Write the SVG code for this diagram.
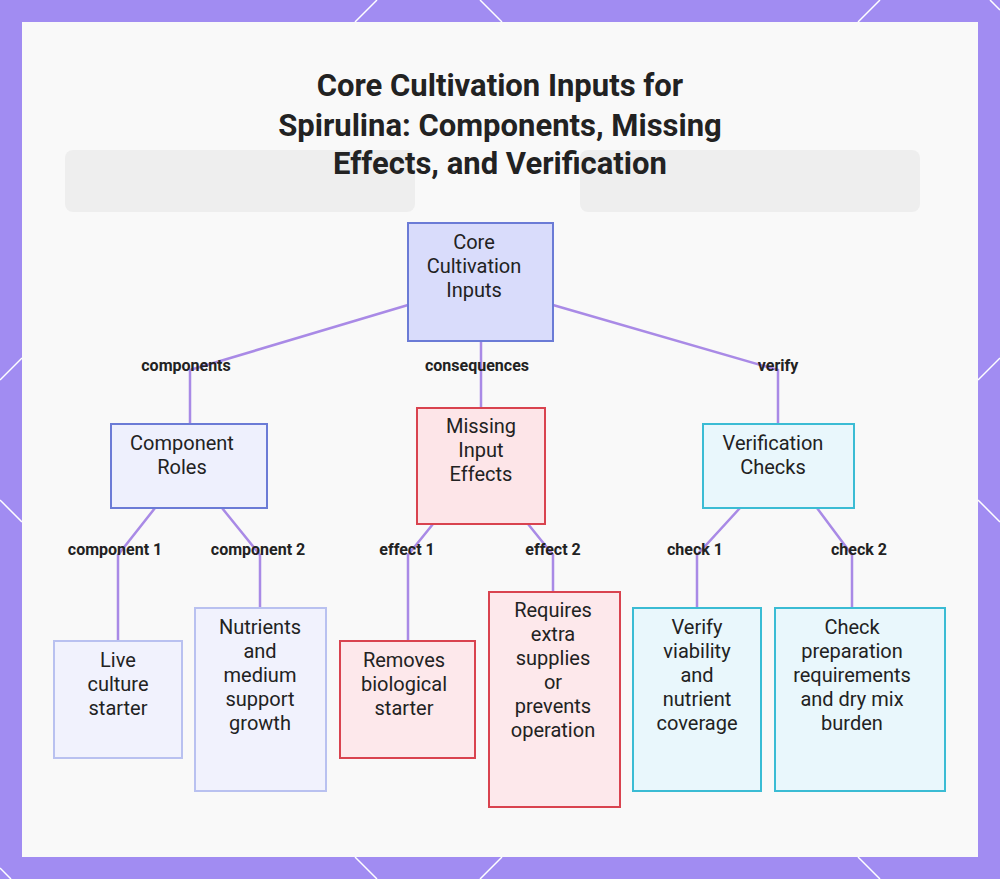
<svg xmlns="http://www.w3.org/2000/svg" width="1000" height="879" viewBox="0 0 1000 879">
<style>
.t{font-family:Roboto,"Liberation Sans",sans-serif;fill:#222}
.ti{font-size:31px;font-weight:bold;text-anchor:middle}
.n{font-size:20px;text-anchor:middle}
.l{font-size:16px;font-weight:bold;text-anchor:middle}
.e{fill:none;stroke:#a98ae6;stroke-width:2.5}
.fr{stroke:#fff;stroke-width:1.5}
</style>
<rect width="1000" height="879" fill="#a18cf2"/>
<g class="fr">
<line x1="0" y1="380" x2="22" y2="358"/><line x1="0" y1="500" x2="22" y2="522"/>
<line x1="978" y1="380" x2="1000" y2="358"/><line x1="978" y1="500" x2="1000" y2="522"/>
<line x1="355" y1="22" x2="377" y2="0"/><line x1="480" y1="0" x2="502" y2="22"/>
<line x1="858" y1="22" x2="880" y2="0"/><line x1="990" y1="0" x2="1000" y2="10"/>
<line x1="355" y1="857" x2="377" y2="879"/><line x1="480" y1="879" x2="502" y2="857"/>
<line x1="858" y1="857" x2="880" y2="879"/><line x1="0" y1="868" x2="11" y2="879"/>
</g>
<rect x="22" y="22" width="956" height="835" fill="#f9f9f9"/>
<rect x="65" y="150" width="350" height="62" rx="8" fill="#eeeeee"/>
<rect x="580" y="150" width="340" height="62" rx="8" fill="#eeeeee"/>
<text class="t ti"><tspan x="500" y="96">Core Cultivation Inputs for</tspan><tspan x="500" y="136">Spirulina: Components, Missing</tspan><tspan x="500" y="174">Effects, and Verification</tspan></text>
<g id="connectors">
<path class="e" d="M408,305 L190,370 V424"/>
<path class="e" d="M481,341 V408"/>
<path class="e" d="M553,305 L778,370 V424"/>
<path class="e" d="M155,508 L118,555 V641"/>
<path class="e" d="M222,508 L260,555 V608"/>
<path class="e" d="M433,524 L408,555 V641"/>
<path class="e" d="M528,524 L553,555 V592"/>
<path class="e" d="M740,508 L697,555 V608"/>
<path class="e" d="M817,508 L852,555 V608"/>
<g class="t l">
<text x="186" y="371">components</text>
<text x="477" y="371">consequences</text>
<text x="778" y="371">verify</text>
<text x="115" y="555">component 1</text>
<text x="258" y="555">component 2</text>
<text x="407" y="555">effect 1</text>
<text x="553" y="555">effect 2</text>
<text x="695" y="555">check 1</text>
<text x="859" y="555">check 2</text>
</g>
</g>
<g id="core"><rect x="408" y="223" width="145" height="118" fill="#d9dcfb" stroke="#6b7bd6" stroke-width="2"/><text class="t n"><tspan x="474" y="249">Core</tspan><tspan x="474" y="273">Cultivation</tspan><tspan x="474" y="297">Inputs</tspan></text></g>
<g id="roles"><rect x="111" y="424" width="156" height="84" fill="#eef0fd" stroke="#6b7bd6" stroke-width="2"/><text class="t n"><tspan x="182" y="450">Component</tspan><tspan x="182" y="474">Roles</tspan></text></g>
<g id="missing"><rect x="417" y="408" width="128" height="116" fill="#fde5e8" stroke="#d9434f" stroke-width="2"/><text class="t n"><tspan x="481" y="433">Missing</tspan><tspan x="481" y="457">Input</tspan><tspan x="481" y="481">Effects</tspan></text></g>
<g id="verif"><rect x="703" y="424" width="151" height="84" fill="#e9f7fc" stroke="#3bbcd4" stroke-width="2"/><text class="t n"><tspan x="773" y="450">Verification</tspan><tspan x="773" y="474">Checks</tspan></text></g>
<g id="live"><rect x="54" y="641" width="128" height="117" fill="#f1f2fd" stroke="#b9c1f0" stroke-width="2"/><text class="t n"><tspan x="118" y="667">Live</tspan><tspan x="118" y="691">culture</tspan><tspan x="118" y="715">starter</tspan></text></g>
<g id="nutr"><rect x="195" y="608" width="131" height="183" fill="#f1f2fd" stroke="#b9c1f0" stroke-width="2"/><text class="t n"><tspan x="260" y="634">Nutrients</tspan><tspan x="260" y="658">and</tspan><tspan x="260" y="682">medium</tspan><tspan x="260" y="706">support</tspan><tspan x="260" y="730">growth</tspan></text></g>
<g id="removes"><rect x="340" y="641" width="135" height="117" fill="#fde8eb" stroke="#d9434f" stroke-width="2"/><text class="t n"><tspan x="404" y="667">Removes</tspan><tspan x="404" y="691">biological</tspan><tspan x="404" y="715">starter</tspan></text></g>
<g id="requires"><rect x="489" y="592" width="131" height="215" fill="#fde8eb" stroke="#d9434f" stroke-width="2"/><text class="t n"><tspan x="553" y="617">Requires</tspan><tspan x="553" y="641">extra</tspan><tspan x="553" y="665">supplies</tspan><tspan x="553" y="689">or</tspan><tspan x="553" y="713">prevents</tspan><tspan x="553" y="737">operation</tspan></text></g>
<g id="viab"><rect x="633" y="608" width="128" height="183" fill="#e9f7fc" stroke="#3bbcd4" stroke-width="2"/><text class="t n"><tspan x="697" y="634">Verify</tspan><tspan x="697" y="658">viability</tspan><tspan x="697" y="682">and</tspan><tspan x="697" y="706">nutrient</tspan><tspan x="697" y="730">coverage</tspan></text></g>
<g id="prep"><rect x="775" y="608" width="170" height="183" fill="#e9f7fc" stroke="#3bbcd4" stroke-width="2"/><text class="t n"><tspan x="852" y="634">Check</tspan><tspan x="852" y="658">preparation</tspan><tspan x="852" y="682">requirements</tspan><tspan x="852" y="706">and dry mix</tspan><tspan x="852" y="730">burden</tspan></text></g>
</svg>
